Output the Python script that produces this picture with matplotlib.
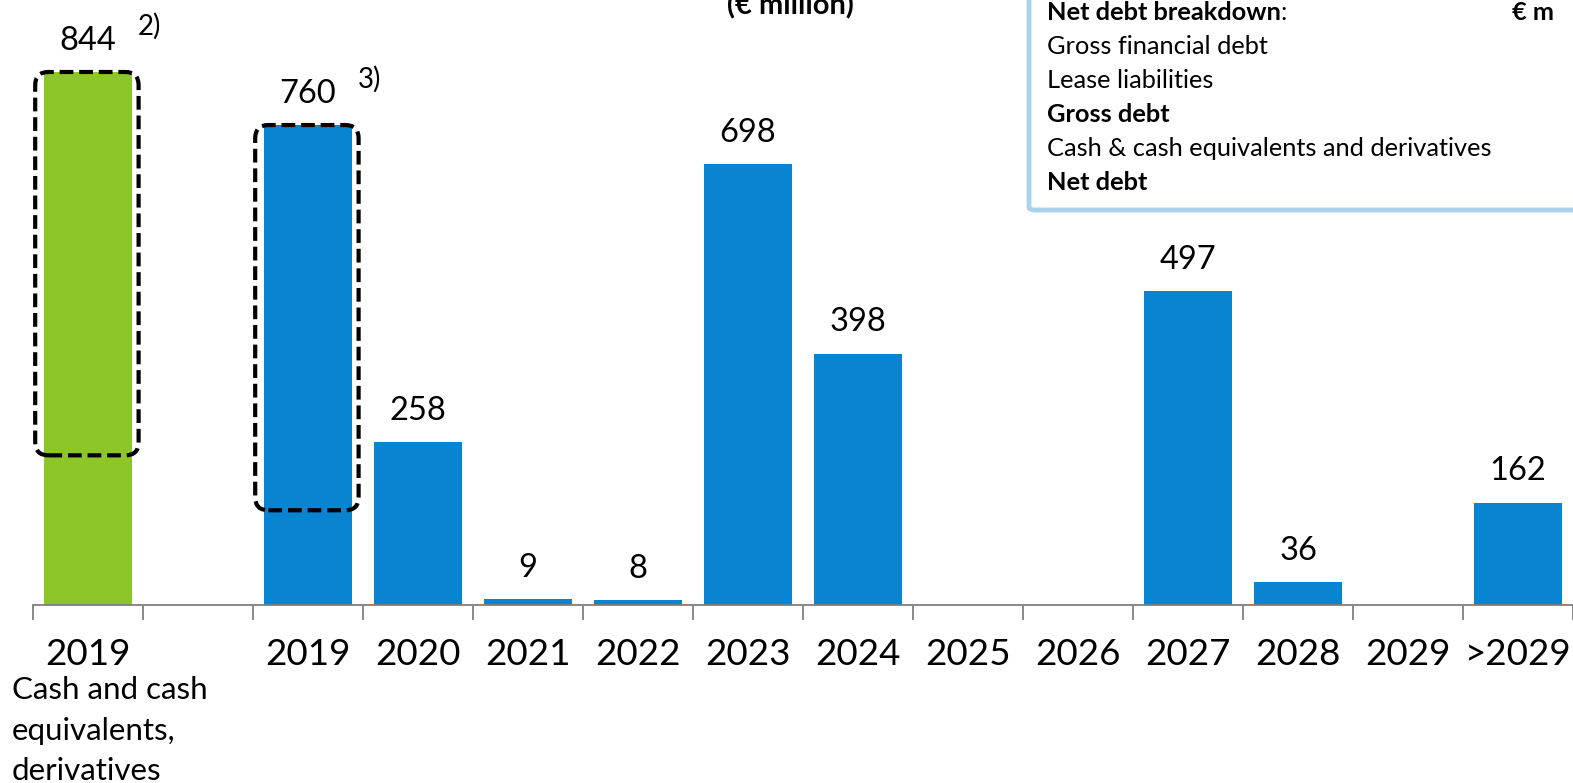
import matplotlib
matplotlib.use("Agg")
import matplotlib.pyplot as plt
from matplotlib.patches import FancyBboxPatch

plt.rcParams['font.family'] = ['Lato', 'DejaVu Sans']

# ---- data ----
categories = ["2019", "", "2019", "2020", "2021", "2022", "2023", "2024",
              "2025", "2026", "2027", "2028", "2029", ">2029"]
values = [844, None, 760, 258, 9, 8, 698, 398, None, None, 497, 36, None, 162]
bar_colors = ["#8DC629", None] + ["#0884D0"] * 12
footnotes = {0: "2)", 2: "3)"}
# dashed highlight ranges: (category index, low value, high value)
highlights = [(0, 237, 844), (2, 150, 760)]
first_cat_note = "Cash and cash\nequivalents,\nderivatives"
title = "(€ million)"
box_lines = ["Gross financial debt", "Lease liabilities", "Gross debt",
             "Cash & cash equivalents and derivatives", "Net debt"]
box_bold = [False, False, True, False, True]

W, H = 1573, 783
fig = plt.figure(figsize=(W / 100, H / 100), dpi=100)
ax = fig.add_axes([33 / W, (H - 605) / H, 1 - 33 / W, 605 / H])
ax.set_xlim(-0.5, len(categories) - 0.5)
ax.set_ylim(0, 958)

xs = [i for i, v in enumerate(values) if v is not None]
vs = [v for v in values if v is not None]
cs = [bar_colors[i] for i in xs]
ax.bar(xs, vs, width=0.8, color=cs, zorder=2)

for x, v in zip(xs, vs):
    ax.annotate(str(v), (x, v), xytext=(0, 22.5), textcoords="offset points",
                ha="center", va="center", fontsize=23.5, color="black")
    if x in footnotes:
        ax.annotate(footnotes[x], (x, v), xytext=(44, 33), textcoords="offset points",
                    ha="center", va="center", fontsize=20, color="black")

# dashed rounded highlight boxes
px_per_x = (W - 33) / len(categories)
px_per_y = 605 / 958
for (i, lo, hi) in highlights:
    x0 = i - 0.48
    x1 = i + 0.46
    p = FancyBboxPatch((x0, lo), x1 - x0, hi - lo,
                       boxstyle="round,pad=0,rounding_size=0.12",
                       mutation_aspect=px_per_x / px_per_y,
                       fill=False, ec="black", lw=3.0, ls=(0, (3.3, 1.4)),
                       zorder=3, clip_on=False)
    ax.add_patch(p)

# axes styling
for s in ["top", "right", "left"]:
    ax.spines[s].set_visible(False)
ax.spines["bottom"].set_color("#808080")
ax.spines["bottom"].set_linewidth(1.3)
ax.set_yticks([])
ax.set_xticks([i - 0.5 for i in range(len(categories) + 1)])
ax.set_xticklabels([])
ax.tick_params(axis="x", length=11, width=1.3, color="#808080")
ax.set_xticks(range(len(categories)), minor=True)
ax.set_xticklabels(categories, minor=True, fontsize=26.5)
ax.tick_params(axis="x", which="minor", length=0, pad=24)

fig.text(12 / W, 1 - 676 / H, first_cat_note, ha="left", va="top",
         fontsize=22.5, linespacing=1.55)

# title (cut at top)
fig.text(790 / W, 1 - 14 / H, title, ha="center", va="baseline",
         fontsize=21, fontweight="bold")

# breakdown box (cut at top/right)
rect = FancyBboxPatch((1029 / W, 1 - 210 / H), 0.5, 0.5,
                      boxstyle="round,pad=0,rounding_size=0.004",
                      transform=fig.transFigure, fill=True, fc="white",
                      ec="#A9D2EC", lw=3.5, clip_on=False)
fig.patches.append(rect)
y0 = 13
fs = 18.3
t1 = fig.text(1047 / W, 1 - y0 / H, "Net debt breakdown", ha="left", va="center",
              fontsize=fs, fontweight="bold")
fig.canvas.draw()
bb = t1.get_window_extent()
fig.text(bb.x1 / W, 1 - y0 / H, ":", ha="left", va="center", fontsize=fs)
fig.text(1512 / W, 1 - y0 / H, "€ m", ha="left", va="center",
         fontsize=fs, fontweight="bold")
for k, (t, b) in enumerate(zip(box_lines, box_bold)):
    fig.text(1047 / W, 1 - (y0 + 34 * (k + 1)) / H, t, ha="left", va="center",
             fontsize=fs, fontweight="bold" if b else "normal")

fig.savefig("out.png", dpi=100)
